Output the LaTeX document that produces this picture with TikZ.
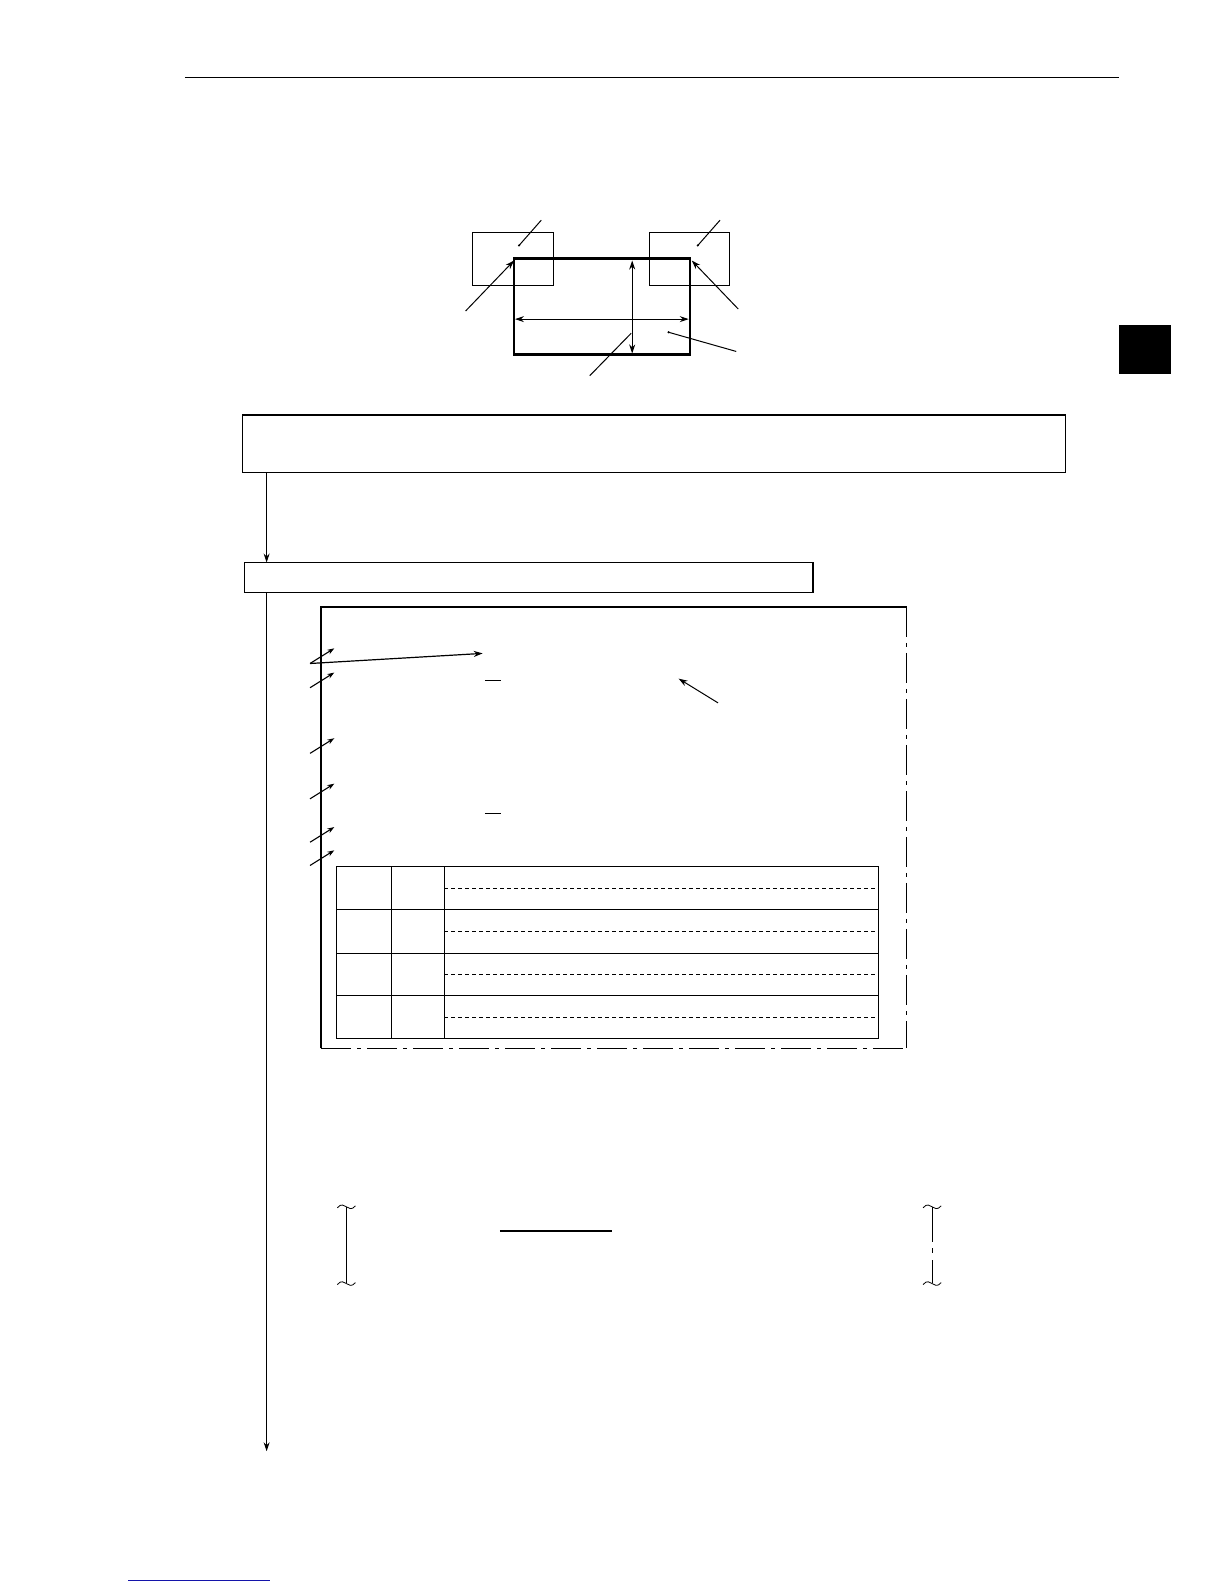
\documentclass[tikz,border=0pt]{standalone}
\usetikzlibrary{arrows.meta}
\begin{document}
\begin{tikzpicture}[x=1.0099pt,y=-1.0099pt,
  thin line/.style={line width=1pt},
  thick line/.style={line width=2.4pt},
  sz/.style 2 args={minimum width={#1*1.0099pt},minimum height={#2*1.0099pt}},
  boxnode/.style={draw,line width=1.2pt,inner sep=0pt,outer sep=0pt},
  tip/.style={-{Stealth[length=9pt,width=6pt]}},
  dtip/.style={{Stealth[length=9pt,width=6pt]}-{Stealth[length=9pt,width=6pt]}},
  dashdot/.style={line width=1.2pt,dash pattern=on 30pt off 6pt on 4pt off 6pt}]
\useasboundingbox (0,0) rectangle (1212,1568.5);
\fill[white] (0,0) rectangle (1212,1568.5);
% header rule and tab
\draw[thin line] (183,77) -- (1108,77);
\node[fill=black,inner sep=0pt,sz={52}{48}] (tab) at (1134,346) {};
% top sketch
\node[draw,line width=1pt,inner sep=0pt,sz={80}{53}] (lb) at (508,256.5) {};
\node[draw,line width=1pt,inner sep=0pt,sz={79}{53}] (rb) at (682.5,256.5) {};
\node[draw,thick line,inner sep=0pt,sz={174}{95}] (mr) at (596,303.5) {};
\coordinate (vt) at (626,258); \coordinate (vb) at (626,350);
\coordinate (hl) at (510,316); \coordinate (hr) at (682,316);
\draw[thin line,dtip] (vt) -- (vb);
\draw[thin line,dtip] (hl) -- (hr);
\coordinate (l1a) at (536,218); \coordinate (l1b) at (514,243);
\coordinate (r1a) at (713,218); \coordinate (r1b) at (691,243);
\draw[thin line] (l1a) -- (l1b); \fill (l1b) circle (1.2pt);
\draw[thin line] (r1a) -- (r1b); \fill (r1b) circle (1.2pt);
\coordinate (la) at (461,308); \coordinate (lt) at (509,258);
\coordinate (ra) at (731,306); \coordinate (rt) at (685,258);
\draw[thin line,tip] (la) -- (lt);
\draw[thin line,tip] (ra) -- (rt);
\coordinate (ba) at (584,372); \coordinate (bb) at (625,330);
\draw[thin line] (ba) -- (bb);
\coordinate (ca) at (729,348); \coordinate (cb) at (662,329);
\draw[thin line] (ca) -- (cb); \fill (cb) circle (1.2pt);
% flow boxes
\node[boxnode,sz={815}{57}] (b1) at (647.5,439.5) {};
\node[boxnode,sz={563}{30}] (b2) at (523.5,572) {};
\coordinate (a1s) at (264,468); \coordinate (a1e) at (264,557);
\draw[thin line,tip] (a1s) -- (a1e);
\coordinate (a2s) at (264,587); \coordinate (a2e) at (264,1437);
\draw[thin line,tip] (a2s) -- (a2e);
% screen frame
\coordinate (sTL) at (318,601); \coordinate (sTR) at (898,601);
\coordinate (sBL) at (318,1038); \coordinate (sBR) at (898,1038);
\draw[line width=2pt] (sBL) -- (sTL) -- (sTR);
\draw[dashdot] (sTR) -- (sBR);
\draw[dashdot] (sBL) -- (sBR);
% small arrows
\foreach \y/\n in {657/p1,681/p2,746/p3,791/p4,834/p5,857/p6}{
  \coordinate (\n s) at (307,\y);
  \coordinate (\n e) at (331,\y-15);
  \draw[line width=1.1pt,-{Stealth[length=7pt,width=5pt]}] (\n s) -- (\n e);
}
\coordinate (lt2) at (478,647);
\draw[line width=1.2pt,tip] (p1s) -- (lt2);
\coordinate (u1a) at (480,674); \coordinate (u1b) at (496,674);
\coordinate (u2a) at (480,806); \coordinate (u2b) at (496,806);
\draw[thin line] (u1a) -- (u1b);
\draw[thin line] (u2a) -- (u2b);
\coordinate (qa) at (711,696); \coordinate (qb) at (672,672);
\draw[thin line,tip] (qa) -- (qb);
% table
\node[draw,line width=1.2pt,inner sep=0pt,sz={537}{170}] (tbl) at (601.5,943) {};
\draw[thin line] (388,858) -- (388,1028);
\draw[thin line] (440,858) -- (440,1028);
\foreach \y in {901,944,986}{ \draw[thin line] (333,\y) -- (870,\y); }
\foreach \y in {880,922,965,1007}{ \draw[line width=0.9pt,dash pattern=on 4pt off 3pt] (440,\y) -- (870,\y); }
% brackets
\coordinate (bl1) at (343,1195); \coordinate (bl2) at (343,1270);
\draw[line width=1.2pt] (bl1) -- (bl2);
\draw[line width=0.8pt] (334,1196) .. controls (338,1191) and (341,1194) .. (343,1195) .. controls (345,1196) and (348,1199) .. (352,1194);
\draw[line width=0.8pt] (334,1272) .. controls (338,1267) and (341,1270) .. (343,1271) .. controls (345,1272) and (348,1275) .. (352,1270);
\coordinate (br1) at (923,1195); \coordinate (br2) at (923,1270);
\draw[line width=1pt] (923,1195) -- (923,1230);
\draw[line width=1pt] (923,1236) -- (923,1241);
\draw[line width=1pt] (923,1248) -- (923,1270);
\draw[line width=0.8pt] (914,1196) .. controls (918,1191) and (921,1194) .. (923,1195) .. controls (925,1196) and (928,1199) .. (932,1194);
\draw[line width=0.8pt] (914,1272) .. controls (918,1267) and (921,1270) .. (923,1271) .. controls (925,1272) and (928,1275) .. (932,1270);
\coordinate (fa) at (495,1219); \coordinate (fb) at (606,1219);
\draw[line width=1.2pt] (fa) -- (fb);
% link underline
\definecolor{linkblue}{RGB}{20,20,170}
\coordinate (ka) at (127,1565); \coordinate (kb) at (267,1565);
\draw[linkblue,line width=1pt] (ka) -- (kb);
\end{tikzpicture}
\end{document}
